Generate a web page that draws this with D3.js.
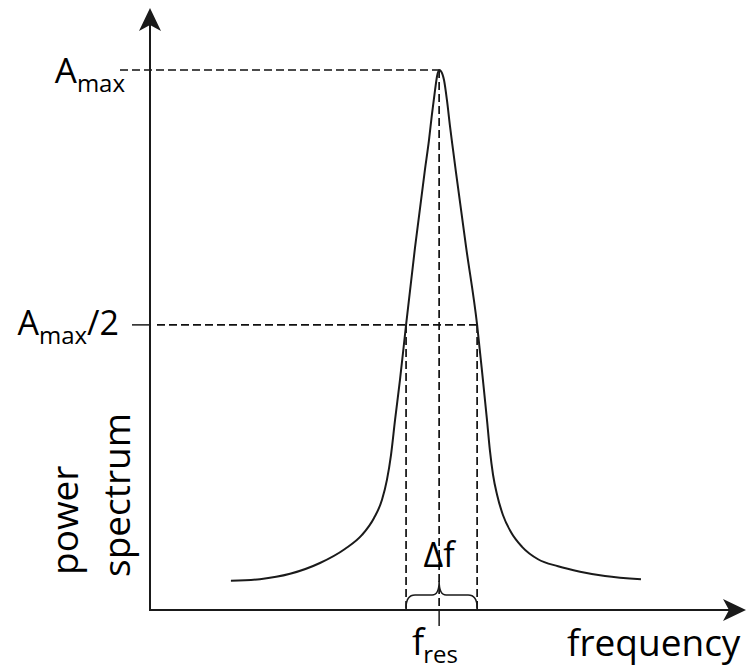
<!DOCTYPE html>
<html>
<head>
<meta charset="utf-8">
<script src="https://cdnjs.cloudflare.com/ajax/libs/d3/7.8.5/d3.min.js"></script>
<style>
  body { margin: 0; background: #fff; }
  text { font-family: "Open Sans", sans-serif; fill: #000; }
</style>
</head>
<body>
<script>
// resonance curve (frequency in arbitrary units, power relative to Amax)
var freq  = [2.79, 3.79, 4.83, 5.86, 6.72, 7.31, 7.72, 8.00, 8.17, 8.31, 8.45, 8.62, 8.83, 9.14, 9.48, 9.62, 9.72, 9.83, 9.90, 9.97,
             10.03, 10.14, 10.24, 10.34, 10.45, 10.55, 10.90, 11.28, 11.48, 11.62, 11.72, 11.83, 11.97, 12.17, 12.45, 12.83, 13.38, 14.07, 14.83, 15.69, 16.93];
var power = [0.054, 0.057, 0.067, 0.087, 0.113, 0.139, 0.170, 0.204, 0.241, 0.287, 0.352, 0.426, 0.528, 0.672, 0.815, 0.870, 0.917, 0.963, 0.989, 1.0,
             0.998, 0.981, 0.944, 0.898, 0.852, 0.811, 0.672, 0.528, 0.426, 0.352, 0.296, 0.250, 0.213, 0.176, 0.144, 0.117, 0.094, 0.081, 0.071, 0.063, 0.057];

// marked levels and frequencies
var ampMax = 1.0, ampHalf = 0.528;
var fRes = 9.97, fLow = 8.83, fHigh = 11.28;

var width = 746, height = 670;

var x = d3.scaleLinear().domain([0, 20.5]).range([150, 744.5]);
var y = d3.scaleLinear().domain([0, 1]).range([610, 70]);

var svg = d3.select("body").append("svg")
    .attr("width", width)
    .attr("height", height);

var ink = "#1a1a1a";

// dashed guide lines
function dashed(x1, y1, x2, y2) {
  svg.append("line")
    .attr("x1", x1).attr("y1", y1).attr("x2", x2).attr("y2", y2)
    .style("stroke", "#111")
    .style("stroke-width", 1.7)
    .style("stroke-dasharray", "8,4");
}
dashed(x(0) - 30, y(ampMax), x(fRes), y(ampMax));
dashed(x(0) + 7, y(ampHalf), x(fHigh), y(ampHalf));
dashed(x(fRes), y(ampMax), x(fRes), y(0));
dashed(x(fLow), y(ampHalf), x(fLow), y(0));
dashed(x(fHigh), y(ampHalf), x(fHigh), y(0));

// the curve
var pts = freq.map(function(f, i) { return [f, power[i]]; });
var line = d3.line()
    .x(function(d) { return x(d[0]); })
    .y(function(d) { return y(d[1]); })
    .curve(d3.curveMonotoneX);

svg.append("path")
    .datum(pts)
    .attr("d", line)
    .style("fill", "none")
    .style("stroke", ink)
    .style("stroke-width", 2);

// axes with arrow heads
svg.append("line")
    .attr("x1", x(0)).attr("y1", y(0) + 1).attr("x2", x(0)).attr("y2", 20)
    .style("stroke", ink).style("stroke-width", 2);
svg.append("line")
    .attr("x1", x(0) - 1).attr("y1", y(0)).attr("x2", 735).attr("y2", y(0))
    .style("stroke", ink).style("stroke-width", 2);

svg.append("path")
    .attr("d", "M0,0 L-11,23 L0,17 L11,23 Z")
    .attr("transform", "translate(" + x(0) + ",8)")
    .style("fill", ink);
svg.append("path")
    .attr("d", "M0,0 L-11,23 L0,17 L11,23 Z")
    .attr("transform", "translate(746," + y(0) + ") rotate(90)")
    .style("fill", ink);

// ticks
svg.append("line")
    .attr("x1", x(0) - 18).attr("y1", y(ampHalf)).attr("x2", x(0)).attr("y2", y(ampHalf))
    .style("stroke", ink).style("stroke-width", 1.5);
svg.append("line")
    .attr("x1", x(fRes)).attr("y1", y(0)).attr("x2", x(fRes)).attr("y2", y(0) + 16)
    .style("stroke", ink).style("stroke-width", 1.5);

// curly brace for the width
var bx1 = x(fLow), bx2 = x(fHigh), bc = x(fRes), by = y(0) - 2;
var brace = d3.path();
brace.moveTo(bx1, by);
brace.quadraticCurveTo(bx1, by - 13, bx1 + 9, by - 13);
brace.lineTo(bc - 7, by - 13);
brace.quadraticCurveTo(bc, by - 13, bc, by - 27);
brace.quadraticCurveTo(bc, by - 13, bc + 7, by - 13);
brace.lineTo(bx2 - 9, by - 13);
brace.quadraticCurveTo(bx2, by - 13, bx2, by);
svg.append("path")
    .attr("d", brace.toString())
    .style("fill", "none")
    .style("stroke", ink)
    .style("stroke-width", 1.5);

// labels
var t1 = svg.append("text")
    .attr("x", 125).attr("y", y(ampMax) + 13)
    .attr("text-anchor", "end")
    .style("font-size", "35px");
t1.append("tspan").text("A");
t1.append("tspan").attr("dy", 9).style("font-size", "24px").text("max");

var t2 = svg.append("text")
    .attr("x", 119).attr("y", y(ampHalf) + 10)
    .attr("text-anchor", "end")
    .style("font-size", "34px");
t2.append("tspan").text("A");
t2.append("tspan").attr("dy", 9).style("font-size", "24px").text("max");
t2.append("tspan").attr("dy", -9).text("/2");

svg.append("text")
    .attr("x", bc).attr("y", 567)
    .attr("text-anchor", "middle")
    .style("font-size", "34px")
    .text("Δf");

var t3 = svg.append("text")
    .attr("x", 412).attr("y", 655)
    .style("font-size", "36px");
t3.append("tspan").text("f");
t3.append("tspan").attr("dy", 8).attr("dx", -1).style("font-size", "24px").text("res");

svg.append("text")
    .attr("x", 567).attr("y", 656)
    .style("font-size", "37px")
    .text("frequency");

svg.append("text")
    .attr("transform", "translate(78,575) rotate(-90)")
    .style("font-size", "37px")
    .text("power");
svg.append("text")
    .attr("transform", "translate(130,577) rotate(-90)")
    .style("font-size", "37px")
    .text("spectrum");
</script>
</body>
</html>
